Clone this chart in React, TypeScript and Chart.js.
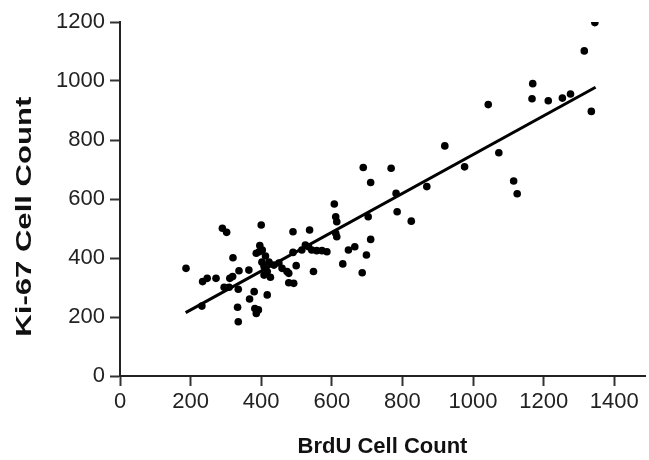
import React, { useEffect, useRef } from "react";
import { Chart, registerables } from "chart.js";

Chart.register(...registerables);

const brduX = [
  187, 290, 302, 400, 234, 247, 272, 311, 319, 337, 365, 320, 396, 386, 394,
  295, 309, 335, 232, 380, 367, 333, 335, 382, 392, 386, 408, 417, 408, 417,
  607, 611, 614, 611, 614, 490, 537, 403, 412, 402, 422, 436, 450, 459, 473,
  426, 478, 490, 499, 515, 525, 534, 543, 557, 572, 586, 548, 478, 492, 647,
  665, 631, 689, 768, 710, 782, 869, 703, 785, 825, 710, 698, 686, 920, 976,
  1073, 1115, 1125, 1043, 1169, 1167, 1213, 1253, 1276, 1335, 1315, 1345,
];
const ki67Y = [
  365, 501, 487, 512, 320, 331, 331, 331, 337, 357, 359, 401, 442, 416, 421,
  301, 301, 294, 237, 286, 261, 233, 184, 229, 224, 212, 371, 354, 342, 275,
  583, 540, 523, 484, 472, 489, 495, 427, 407, 386, 386, 376, 383, 365, 354,
  335, 348, 419, 374, 427, 444, 438, 427, 425, 425, 421, 354, 316, 314, 427,
  438, 380, 707, 704, 656, 619, 642, 540, 557, 525, 463, 410, 350, 780, 709,
  757, 661, 618, 920, 991, 940, 933, 942, 956, 897, 1102, 1198,
];
const fitX = [186, 1347];
const fitY = [215, 979];
const xTicks = [0, 200, 400, 600, 800, 1000, 1200, 1400];
const yTicks = [0, 200, 400, 600, 800, 1000, 1200];
const xTitle = "BrdU Cell Count";
const yTitle = "Ki-67 Cell Count";

const FONT = "'Liberation Sans', Arial, sans-serif";

const yTitlePlugin = {
  id: "yTitleStretched",
  afterDraw(chart: any) {
    const ctx = chart.ctx as CanvasRenderingContext2D;
    const area = chart.chartArea;
    ctx.save();
    ctx.font = `bold 22px ${FONT}`;
    const w = ctx.measureText(yTitle).width;
    const target = 240;
    ctx.translate(25, area.top + (area.bottom - area.top) * 0.55);
    ctx.rotate(-Math.PI / 2);
    ctx.scale(target / w, 1);
    ctx.fillStyle = "#111";
    ctx.textAlign = "center";
    ctx.textBaseline = "middle";
    ctx.fillText(yTitle, 0, 0);
    ctx.restore();
  },
};

export default function App() {
  const ref = useRef<HTMLCanvasElement | null>(null);
  useEffect(() => {
    if (!ref.current) return;
    const chart = new Chart(ref.current, {
      type: "scatter",
      data: {
        datasets: [
          {
            type: "scatter",
            data: brduX.map((x, i) => ({ x, y: ki67Y[i] })),
            backgroundColor: "#000",
            borderColor: "#000",
            pointRadius: 3.8,
            pointBorderWidth: 0,
          },
          {
            type: "line",
            data: fitX.map((x, i) => ({ x, y: fitY[i] })),
            borderColor: "#000",
            borderWidth: 3,
            pointRadius: 0,
            fill: false,
          } as any,
        ],
      },
      options: {
        animation: false,
        responsive: false,
        maintainAspectRatio: false,
        layout: { padding: { top: 22, right: 0, bottom: 0, left: 0 } },
        plugins: { legend: { display: false }, tooltip: { enabled: false } },
        scales: {
          x: {
            type: "linear",
            min: 0,
            max: 1487,
            afterBuildTicks: (s: any) => {
              s.ticks = xTicks.map((v) => ({ value: v }));
            },
            afterFit: (s: any) => {
              s.height = 84;
            },
            grid: {
              drawOnChartArea: false,
              drawTicks: true,
              tickLength: 10,
              tickWidth: 2,
              color: "#333",
            },
            border: { display: true, color: "#222", width: 2 },
            ticks: {
              color: "#222",
              font: { family: FONT, size: 22 },
              padding: 3,
              maxRotation: 0,
              autoSkip: false,
              callback: (v: any) => String(v),
            },
            title: {
              display: true,
              text: xTitle,
              color: "#111",
              font: { family: FONT, size: 22, weight: "bold" },
              padding: { top: 0, bottom: 0 },
            },
          },
          y: {
            type: "linear",
            min: 0,
            max: 1200,
            afterBuildTicks: (s: any) => {
              s.ticks = yTicks.map((v) => ({ value: v }));
            },
            afterFit: (s: any) => {
              s.width = 120;
            },
            grid: {
              drawOnChartArea: false,
              drawTicks: true,
              tickLength: 10,
              tickWidth: 2,
              color: "#333",
            },
            border: { display: true, color: "#222", width: 2 },
            ticks: {
              color: "#222",
              font: { family: FONT, size: 22 },
              padding: 5,
              callback: (v: any) => String(v),
            },
            title: { display: false },
          },
        },
      },
      plugins: [yTitlePlugin],
    });
    return () => chart.destroy();
  }, []);
  return (
    <div style={{ position: "fixed", left: 0, top: 0, width: 649, height: 460, background: "#fff" }}>
      <canvas ref={ref} width={649} height={460} style={{ width: 649, height: 460 }} />
    </div>
  );
}
